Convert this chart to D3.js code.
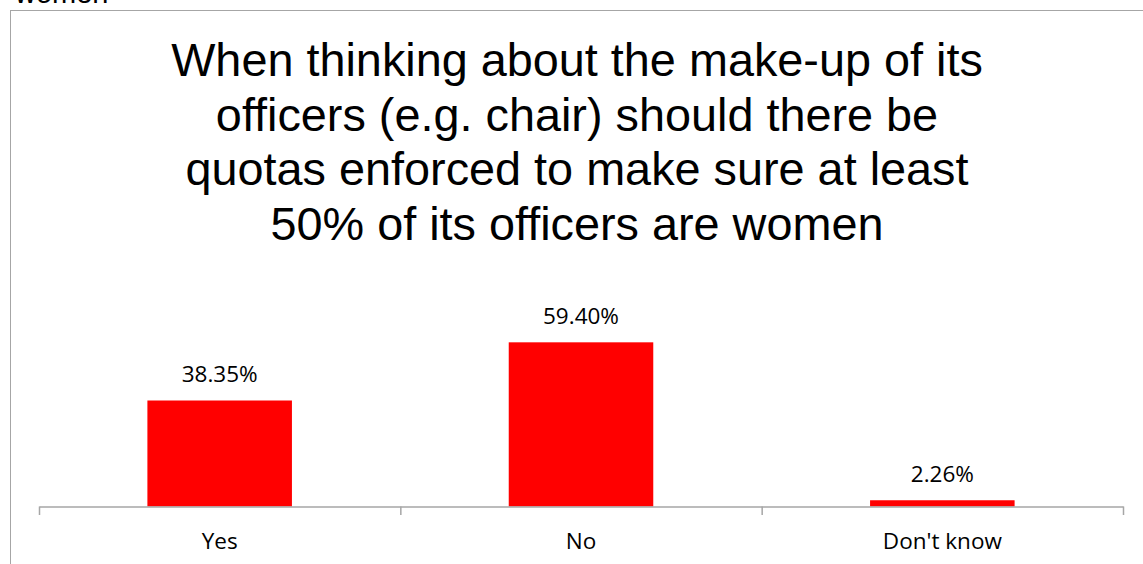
<!DOCTYPE html>
<html>
<head>
<meta charset="utf-8">
<script src="https://cdn.jsdelivr.net/npm/d3@7"></script>
<style>
  html, body { margin: 0; padding: 0; background: #fff; }
  svg { display: block; }
</style>
</head>
<body>
<svg id="chart" width="1143" height="564"></svg>
<script>
// Survey responses
const categories = ["Yes", "No", "Don't know"];
const shares = [38.35, 59.40, 2.26];
const valueLabels = ["38.35%", "59.40%", "2.26%"];
const titleLines = [
  "When thinking about the make-up of its",
  "officers (e.g. chair) should there be",
  "quotas enforced to make sure at least",
  "50% of its officers are women"
];

const svg = d3.select("#chart");

// Tail of the preceding caption, clipped by the top edge
svg.append("text")
  .attr("x", 15).attr("y", 3)
  .attr("font-family", "Liberation Sans, Arial, sans-serif")
  .attr("font-size", 29)
  .attr("fill", "#000")
  .text("women");

// Chart frame
svg.append("rect")
  .attr("x", 10.5).attr("y", 10.5)
  .attr("width", 1140).attr("height", 600)
  .attr("fill", "#fff")
  .attr("stroke", "#a6a6a6")
  .attr("stroke-width", 1);

// Title
svg.append("text")
  .attr("text-anchor", "middle")
  .attr("font-family", "Liberation Sans, Arial, sans-serif")
  .attr("font-size", 46.8)
  .attr("fill", "#000")
  .selectAll("tspan")
  .data(titleLines)
  .join("tspan")
  .attr("x", 577)
  .attr("y", (d, i) => 76 + i * 54.7)
  .text(d => d);

// Scales
const plot = { left: 39, right: 1123, base: 506.5 };
const x = d3.scaleBand()
  .domain(categories)
  .range([plot.left, plot.right])
  .paddingInner(0.6)
  .paddingOuter(0.3);
const slot = d3.scaleBand()
  .domain(categories)
  .range([plot.left, plot.right])
  .padding(0);
const y = d3.scaleLinear()
  .domain([0, 70])
  .range([plot.base, plot.base - 70 * 2.764]);

// Bars
svg.append("g")
  .selectAll("rect")
  .data(categories)
  .join("rect")
  .attr("x", d => x(d))
  .attr("width", x.bandwidth())
  .attr("y", (d, i) => y(shares[i]))
  .attr("height", (d, i) => y(0) - y(shares[i]))
  .attr("fill", "#ff0000");

// Value labels
svg.append("g")
  .selectAll("text")
  .data(categories)
  .join("text")
  .attr("x", d => x(d) + x.bandwidth() / 2)
  .attr("y", (d, i) => y(shares[i]) - 18.5)
  .attr("text-anchor", "middle")
  .attr("font-family", "Open Sans, sans-serif")
  .attr("font-size", 22.5)
  .attr("fill", "#000")
  .text((d, i) => valueLabels[i]);

// Category axis
const axis = svg.append("g")
  .attr("transform", `translate(0,${plot.base})`)
  .call(d3.axisBottom(slot).tickSize(0).tickPadding(0));
axis.select(".domain").attr("stroke", "#a6a6a6").attr("stroke-width", 1.5);
axis.selectAll(".tick text")
  .attr("font-family", "Open Sans, sans-serif")
  .attr("font-size", 22.5)
  .attr("fill", "#000")
  .attr("y", 42.8)
  .attr("dy", 0);

// Tick marks at category boundaries
const bounds = categories.map(c => slot(c)).concat([plot.right]);
axis.selectAll("line.bound")
  .data(bounds)
  .join("line")
  .attr("class", "bound")
  .attr("x1", d => d + 0.5).attr("x2", d => d + 0.5)
  .attr("y1", 0).attr("y2", 8.5)
  .attr("stroke", "#a6a6a6")
  .attr("stroke-width", 1.5);
</script>
</body>
</html>
